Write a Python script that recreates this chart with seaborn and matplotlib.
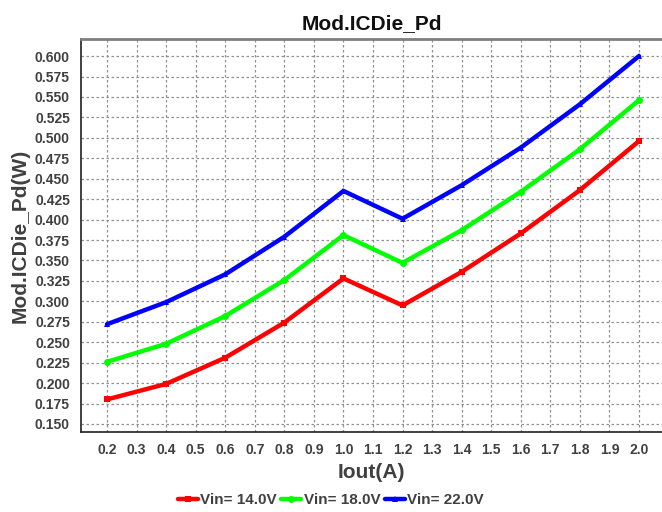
import numpy as np
import pandas as pd
import seaborn as sns
import matplotlib.pyplot as plt

# Values
iout = [0.2, 0.4, 0.6, 0.8, 1.0, 1.2, 1.4, 1.6, 1.8, 2.0]
vin14 = [0.180, 0.199, 0.231, 0.274, 0.328, 0.295, 0.336, 0.383, 0.436, 0.496]
vin18 = [0.226, 0.248, 0.282, 0.326, 0.381, 0.347, 0.387, 0.434, 0.486, 0.546]
vin22 = [0.272, 0.299, 0.333, 0.379, 0.435, 0.401, 0.442, 0.488, 0.541, 0.600]
series_names = ["Vin= 14.0V", "Vin= 18.0V", "Vin= 22.0V"]

df = pd.DataFrame({
    "Iout": iout * 3,
    "Pd": vin14 + vin18 + vin22,
    "Series": np.repeat(series_names, len(iout)),
})

sns.set_style("white")
plt.rcParams["font.family"] = ["Liberation Sans", "DejaVu Sans"]
plt.rcParams["font.weight"] = "bold"

fig = plt.figure(figsize=(6.62, 5.12), dpi=100)
ax = fig.add_axes([0.1224, 0.156, 0.8776, 0.768])

palette = {"Vin= 14.0V": "#ff0000", "Vin= 18.0V": "#00ff00", "Vin= 22.0V": "#0000ff"}
markers = {"Vin= 14.0V": "s", "Vin= 18.0V": "o", "Vin= 22.0V": "^"}
sns.lineplot(data=df, x="Iout", y="Pd", hue="Series", style="Series",
             palette=palette, markers=markers, dashes=False,
             linewidth=3.2, markersize=5, markeredgewidth=0, ax=ax)

ax.set_xlim(0.112, 2.078)
ax.set_ylim(0.140, 0.621)
ax.set_xticks(np.round(np.arange(0.2, 2.01, 0.1), 1))
ax.set_xticklabels([f"{v:.1f}" for v in np.arange(0.2, 2.01, 0.1)])
ax.set_yticks(np.round(np.arange(0.150, 0.601, 0.025), 3))
ax.set_yticklabels([f"{v:.3f}" for v in np.arange(0.150, 0.601, 0.025)])
ax.tick_params(axis="both", labelsize=10, labelcolor="#404040", length=3,
               color="#808080", direction="out")
ax.tick_params(axis="x", pad=5)
ax.tick_params(axis="y", pad=5)

ax.grid(True, linestyle=(0, (2, 2)), color="#909090", linewidth=0.9)
for side in ["left", "bottom"]:
    ax.spines[side].set_color("#202020")
    ax.spines[side].set_linewidth(1.2)
ax.spines["top"].set_color("#808080")
ax.spines["top"].set_linewidth(2)
ax.spines["right"].set_visible(False)

ax.set_title("Mod.ICDie_Pd", fontsize=15, fontweight="bold", color="#101010", pad=7)
ax.set_xlabel("Iout(A)", fontsize=15, fontweight="bold", color="#404040", labelpad=4)
ax.set_ylabel("Mod.ICDie_Pd(W)", fontsize=15, fontweight="bold", color="#404040", labelpad=4)

leg = ax.legend(loc="upper center", bbox_to_anchor=(0.43, -0.12), ncol=3, frameon=False,
                fontsize=11, handlelength=1.3, handletextpad=0.15, columnspacing=0.3)
for t in leg.get_texts():
    t.set_color("#404040")
    t.set_fontweight("bold")

fig.savefig("out.png", dpi=100)
